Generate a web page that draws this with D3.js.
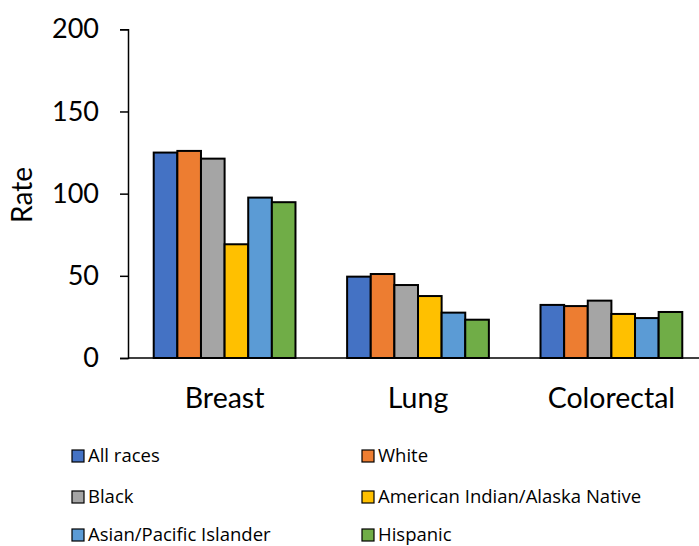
<!DOCTYPE html>
<html>
<head>
<meta charset="utf-8">
<script src="https://cdn.jsdelivr.net/npm/d3@7"></script>
<style>
  body { margin: 0; background: #fff; }
  text { font-family: Lato, "Open Sans", sans-serif; fill: #000; }
</style>
</head>
<body>
<div id="chart"></div>
<script>
const cancers = ["Breast", "Lung", "Colorectal"];
const groups = ["All races", "White", "Black", "American Indian/Alaska Native", "Asian/Pacific Islander", "Hispanic"];
const colors = ["#4472c4", "#ed7d31", "#a5a5a5", "#ffc000", "#5b9bd5", "#70ad47"];
// one array per group: Breast, Lung, Colorectal
const allRaces = [125, 49.5, 32.3];
const white = [126, 51.1, 31.6];
const black = [121.3, 44.4, 34.9];
const aian = [69.2, 37.7, 26.8];
const api = [97.6, 27.6, 24.3];
const hispanic = [94.8, 23.3, 28.0];
const yTicks = [0, 50, 100, 150, 200];

const series = [allRaces, white, black, aian, api, hispanic];

const width = 699, height = 546;
const svg = d3.select("#chart").append("svg")
    .attr("width", width)
    .attr("height", height);

const plotLeft = 128, plotRight = 708, plotTop = 29.3, plotBottom = 358;

const x = d3.scaleBand().domain(cancers).range([plotLeft, plotRight]).paddingInner(0.267).paddingOuter(0.133);
const xi = d3.scaleBand().domain(groups).range([0, x.bandwidth()]);
const y = d3.scaleLinear().domain([0, 200]).range([plotBottom, plotTop]);

// bars
cancers.forEach((c, ci) => {
    const g = svg.append("g").attr("transform", "translate(" + x(c) + ",0)");
    g.selectAll("rect")
        .data(groups)
        .join("rect")
        .attr("x", d => xi(d))
        .attr("y", (d, i) => y(series[i][ci]))
        .attr("width", xi.bandwidth())
        .attr("height", (d, i) => y(0) - y(series[i][ci]))
        .attr("fill", (d, i) => colors[i])
        .attr("stroke", "#000")
        .attr("stroke-width", 2);
});

// y axis
const yAxis = svg.append("g")
    .attr("transform", "translate(" + plotLeft + ",0)")
    .call(d3.axisLeft(y).tickValues(yTicks).tickSize(8).tickPadding(21));
yAxis.select(".domain").attr("stroke", "#000").attr("stroke-width", 1.5);
yAxis.selectAll(".tick line").attr("stroke", "#000").attr("stroke-width", 1.5);
yAxis.selectAll("text").style("font-size", "27px").style("font-family", "Lato, sans-serif").attr("fill", "#000");

// x axis baseline
svg.append("line")
    .attr("x1", plotLeft).attr("x2", width)
    .attr("y1", y(0)).attr("y2", y(0))
    .attr("stroke", "#000").attr("stroke-width", 1.5);

// category labels
svg.selectAll(".cat")
    .data(cancers)
    .join("text")
    .attr("class", "cat")
    .attr("x", d => x(d) + x.bandwidth() / 2)
    .attr("y", 408)
    .attr("text-anchor", "middle")
    .style("font-size", "28.5px")
    .text(d => d);

// y label
svg.append("text")
    .attr("transform", "translate(32,195) rotate(-90)")
    .attr("text-anchor", "middle")
    .style("font-size", "28px")
    .text("Rate");

// legend
const legendX = [72, 362];
const legendY = [456, 497, 535];
const legend = svg.selectAll(".leg")
    .data(groups)
    .join("g")
    .attr("class", "leg")
    .attr("transform", (d, i) => "translate(" + legendX[i % 2] + "," + legendY[Math.floor(i / 2)] + ")");
legend.append("rect")
    .attr("x", 0).attr("y", -6)
    .attr("width", 12).attr("height", 12)
    .attr("fill", (d, i) => colors[i])
    .attr("stroke", "#000").attr("stroke-width", 1.2);
legend.append("text")
    .attr("x", 16)
    .attr("y", 6)
    .style("font-size", "18.5px")
    .style("font-family", "'Open Sans', sans-serif")
    .text(d => d);
</script>
</body>
</html>
